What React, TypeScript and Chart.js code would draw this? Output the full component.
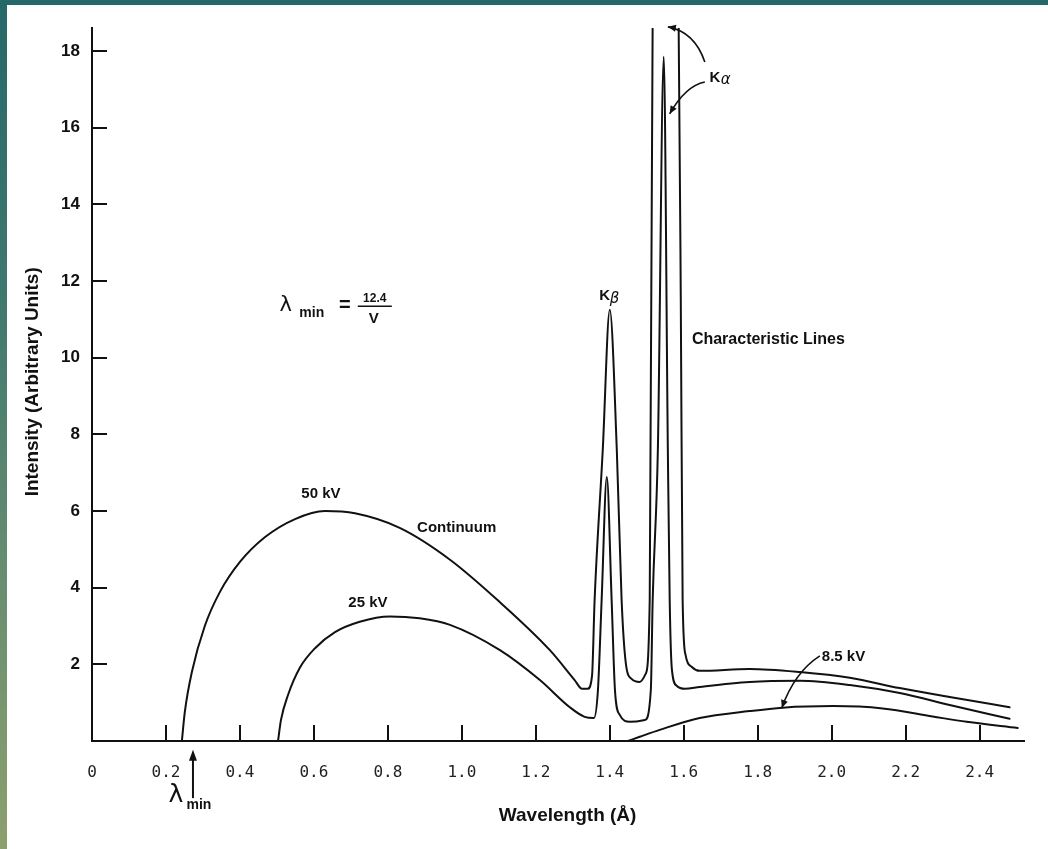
import React, { useEffect, useRef } from 'react';
import { Chart, registerables } from 'chart.js';

Chart.register(...registerables);

// ---- data (wavelength in Å, intensity in arbitrary units) ----
const wl50 = [0.243, 0.251, 0.270, 0.305, 0.346, 0.400, 0.468, 0.549, 0.630, 0.711, 0.832, 0.968, 1.103, 1.238, 1.305, 1.325, 1.340, 1.352, 1.359, 1.381, 1.400, 1.419, 1.432, 1.443, 1.459, 1.481, 1.497, 1.508, 1.516, 1.525, 1.551, 1.578, 1.586, 1.592, 1.597, 1.605, 1.622, 1.643, 1.778, 1.914, 2.049, 2.184, 2.319, 2.481];
const int50 = [0, 0.76, 1.80, 3.00, 3.89, 4.67, 5.32, 5.79, 6.00, 5.94, 5.56, 4.73, 3.62, 2.37, 1.59, 1.36, 1.36, 1.70, 3.68, 7.59, 11.25, 7.59, 3.68, 2.06, 1.62, 1.54, 1.75, 3.68, 18.9, 21, 22, 21, 18.9, 11.5, 3.68, 2.24, 1.93, 1.83, 1.88, 1.80, 1.65, 1.38, 1.15, 0.88];

const wl25 = [0.503, 0.511, 0.530, 0.562, 0.603, 0.657, 0.724, 0.805, 0.886, 0.968, 1.103, 1.211, 1.292, 1.332, 1.357, 1.368, 1.378, 1.392, 1.405, 1.414, 1.427, 1.454, 1.495, 1.511, 1.516, 1.530, 1.546, 1.557, 1.562, 1.568, 1.581, 1.603, 1.643, 1.778, 1.914, 2.049, 2.184, 2.319, 2.481];
const int25 = [0, 0.55, 1.20, 1.91, 2.42, 2.84, 3.11, 3.25, 3.20, 3.03, 2.37, 1.59, 0.88, 0.63, 0.60, 1.33, 3.68, 6.89, 3.68, 1.33, 0.68, 0.50, 0.55, 1.33, 3.68, 7.59, 17.85, 7.59, 3.68, 1.86, 1.44, 1.36, 1.41, 1.54, 1.57, 1.46, 1.25, 0.94, 0.58];

const wl85 = [1.449, 1.481, 1.535, 1.643, 1.778, 1.868, 2.003, 2.138, 2.273, 2.365, 2.503];
const int85 = [0, 0.11, 0.29, 0.60, 0.78, 0.87, 0.91, 0.85, 0.64, 0.50, 0.34];

const seriesNames = ['50 kV', '25 kV', '8.5 kV'];

const xTickValues = [0, 0.2, 0.4, 0.6, 0.8, 1.0, 1.2, 1.4, 1.6, 1.8, 2.0, 2.2, 2.4];
const xTickLabels = ['0', '0.2', '0.4', '0.6', '0.8', '1.0', '1.2', '1.4', '1.6', '1.8', '2.0', '2.2', '2.4'];
const yTickValues = [2, 4, 6, 8, 10, 12, 14, 16, 18];
const yTickLabels = ['2', '4', '6', '8', '10', '12', '14', '16', '18'];

const xTitle = 'Wavelength (Å)';
const yTitle = 'Intensity (Arbitrary Units)';

// text annotations anchored in data units
const curveLabels = [
  { text: '50 kV', x: 0.619, y: 6.45 },
  { text: '25 kV', x: 0.746, y: 3.6 },
  { text: 'Continuum', x: 0.986, y: 5.56 },
  { text: '8.5 kV', x: 2.032, y: 2.19 },
];
const charLinesLabel = { text: 'Characteristic Lines', x: 1.622, y: 10.46 };
const kBetaLabel = { x: 1.386, y: 11.61 };
const kAlphaLabel = { x: 1.684, y: 17.3 };
const formulaAnchor = { x: 0.524, y: 11.37 };
const lambdaMinMark = { x: 0.273, y0: -1.49, y1: -0.23 };
// arrows: start, control, end (data units)
const arrows = [
  [1.968, 2.22, 1.900, 1.80, 1.865, 0.86],
  [1.657, 17.71, 1.630, 18.50, 1.557, 18.63],
  [1.657, 17.19, 1.605, 17.09, 1.562, 16.36],
];

const FONT = "'Liberation Sans', Arial, Helvetica, sans-serif";
const INK = '#111';

function toPoints(xs: number[], ys: number[]) {
  return xs.map((x, i) => ({ x, y: ys[i] }));
}

function arrowHead(ctx: CanvasRenderingContext2D, fx: number, fy: number, tx: number, ty: number, len = 9, half = 3.5) {
  const a = Math.atan2(ty - fy, tx - fx);
  ctx.beginPath();
  ctx.moveTo(tx, ty);
  ctx.lineTo(tx - len * Math.cos(a) + half * Math.sin(a), ty - len * Math.sin(a) - half * Math.cos(a));
  ctx.lineTo(tx - len * Math.cos(a) - half * Math.sin(a), ty - len * Math.sin(a) + half * Math.cos(a));
  ctx.closePath();
  ctx.fill();
}

const decorPlugin = {
  id: 'decor',
  afterDraw(chart: any) {
    const ctx: CanvasRenderingContext2D = chart.ctx;
    const xs = chart.scales.x;
    const ys = chart.scales.y;
    const px = (v: number) => xs.getPixelForValue(v);
    const py = (v: number) => ys.getPixelForValue(v);
    const area = chart.chartArea;
    ctx.save();
    ctx.strokeStyle = INK;
    ctx.fillStyle = INK;
    ctx.lineWidth = 2;
    // inward tick marks
    yTickValues.forEach((v) => {
      const y = Math.round(py(v));
      ctx.beginPath();
      ctx.moveTo(area.left, y);
      ctx.lineTo(area.left + 15, y);
      ctx.stroke();
    });
    xTickValues.filter((v) => v > 0).forEach((v) => {
      const x = Math.round(px(v));
      ctx.beginPath();
      ctx.moveTo(x, area.bottom);
      ctx.lineTo(x, area.bottom - 16);
      ctx.stroke();
    });

    // axis titles
    ctx.textAlign = 'center';
    ctx.textBaseline = 'alphabetic';
    ctx.font = `bold 19px ${FONT}`;
    ctx.fillText(xTitle, px(1.286), area.bottom + 80);
    ctx.save();
    ctx.translate(38, py(9.37));
    ctx.rotate(-Math.PI / 2);
    ctx.font = `bold 19px ${FONT}`;
    ctx.fillText(yTitle, 0, 0);
    ctx.restore();

    // curve labels
    ctx.textBaseline = 'middle';
    ctx.font = `bold 15px ${FONT}`;
    curveLabels.forEach((l) => ctx.fillText(l.text, px(l.x), py(l.y)));
    ctx.textAlign = 'left';
    ctx.font = `bold 16px ${FONT}`;
    ctx.fillText(charLinesLabel.text, px(charLinesLabel.x), py(charLinesLabel.y));

    // K beta, K alpha
    ctx.textAlign = 'center';
    let ax = px(kBetaLabel.x), ay = py(kBetaLabel.y);
    ctx.font = `bold 15px ${FONT}`;
    ctx.fillText('K', ax, ay);
    ctx.font = `italic 15px 'DejaVu Sans', sans-serif`;
    ctx.fillText('β', ax + 10, ay + 3);
    ax = px(kAlphaLabel.x); ay = py(kAlphaLabel.y);
    ctx.font = `bold 15px ${FONT}`;
    ctx.fillText('K', ax, ay);
    ctx.font = `italic 15px 'DejaVu Sans', sans-serif`;
    ctx.fillText('α', ax + 11, ay + 2);

    // formula lambda_min = 12.4 / V
    ax = px(formulaAnchor.x); ay = py(formulaAnchor.y);
    ctx.font = `21px 'DejaVu Sans', sans-serif`;
    ctx.fillText('λ', ax, ay);
    ctx.font = `bold 14px ${FONT}`;
    ctx.fillText('min', ax + 26, ay + 8);
    ctx.font = `bold 20px ${FONT}`;
    ctx.fillText('=', ax + 59, ay);
    ctx.font = `bold 12px ${FONT}`;
    ctx.fillText('12.4', ax + 89, ay - 6);
    ctx.lineWidth = 1.5;
    ctx.beginPath();
    ctx.moveTo(ax + 72, ay + 1);
    ctx.lineTo(ax + 106, ay + 1);
    ctx.stroke();
    ctx.font = `bold 15px ${FONT}`;
    ctx.fillText('V', ax + 88, ay + 14);

    // lambda_min marker below the axis
    const mx = px(lambdaMinMark.x);
    const my0 = py(lambdaMinMark.y0), my1 = py(lambdaMinMark.y1);
    ctx.lineWidth = 2;
    ctx.beginPath();
    ctx.moveTo(mx, my0);
    ctx.lineTo(mx, my1 + 6);
    ctx.stroke();
    arrowHead(ctx, mx, my0, mx, my1, 11, 4);
    ctx.font = `25px 'DejaVu Sans', sans-serif`;
    ctx.fillText('λ', mx - 17, my0 - 3);
    ctx.font = `bold 14px ${FONT}`;
    ctx.fillText('min', mx + 6, my0 + 7);

    // pointer arrows
    ctx.lineWidth = 1.6;
    arrows.forEach((a) => {
      const [x0, y0, cx, cy, x1, y1] = [px(a[0]), py(a[1]), px(a[2]), py(a[3]), px(a[4]), py(a[5])];
      ctx.beginPath();
      ctx.moveTo(x0, y0);
      ctx.quadraticCurveTo(cx, cy, x1, y1);
      ctx.stroke();
      arrowHead(ctx, cx, cy, x1, y1, 8, 3.5);
    });

    ctx.restore();
  },
};

export default function App() {
  const canvasRef = useRef<HTMLCanvasElement | null>(null);

  useEffect(() => {
    const canvas = canvasRef.current;
    if (!canvas) return;
    const lineStyle = {
      borderColor: INK,
      borderWidth: 2,
      pointRadius: 0,
      fill: false,
      cubicInterpolationMode: 'monotone' as const,
      borderJoinStyle: 'round' as const,
      borderCapStyle: 'round' as const,
    };
    const chart = new Chart(canvas, {
      type: 'line',
      data: {
        datasets: [
          { label: seriesNames[0], data: toPoints(wl50, int50), ...lineStyle },
          { label: seriesNames[1], data: toPoints(wl25, int25), ...lineStyle },
          { label: seriesNames[2], data: toPoints(wl85, int85), ...lineStyle },
        ],
      },
      options: {
        responsive: false,
        animation: false,
        layout: { padding: { top: 28, right: 24, left: 0, bottom: 0 } },
        plugins: { legend: { display: false }, tooltip: { enabled: false } },
        scales: {
          x: {
            type: 'linear',
            min: 0,
            max: 2.52,
            grid: { display: false, drawTicks: false },
            border: { display: true, color: INK, width: 2 },
            ticks: {
              autoSkip: false,
              maxRotation: 0,
              padding: 22,
              color: '#222',
              font: { family: "'DejaVu Sans Mono', monospace", size: 16 },
              callback: (value: any) => {
                const i = xTickValues.findIndex((t) => Math.abs(t - Number(value)) < 1e-6);
                return i >= 0 ? xTickLabels[i] : '';
              },
            },
            afterBuildTicks: (s: any) => {
              s.ticks = xTickValues.map((v) => ({ value: v }));
            },
            afterFit: (s: any) => {
              s.height = 108;
            },
          },
          y: {
            type: 'linear',
            min: 0,
            max: 18.6,
            grid: { display: false, drawTicks: false },
            border: { display: true, color: INK, width: 2 },
            ticks: {
              autoSkip: false,
              padding: 12,
              color: INK,
              font: { family: FONT, size: 17, weight: 'bold' },
              callback: (value: any) => {
                const i = yTickValues.findIndex((t) => Math.abs(t - Number(value)) < 1e-6);
                return i >= 0 ? yTickLabels[i] : '';
              },
            },
            afterBuildTicks: (s: any) => {
              s.ticks = yTickValues.map((v) => ({ value: v }));
            },
            afterFit: (s: any) => {
              s.width = 92;
            },
          },
        },
      } as any,
      plugins: [decorPlugin],
    });
    return () => chart.destroy();
  }, []);

  return (
    <div
      style={{
        position: 'fixed',
        left: 0,
        top: 0,
        width: 1048,
        height: 849,
        background: 'linear-gradient(180deg, #256868 0%, #3f786e 35%, #6a8f70 70%, #8ca06d 100%)',
        overflow: 'hidden',
      }}
    >
      <div style={{ position: 'absolute', left: 7, top: 5, right: 0, bottom: 0, background: '#ffffff' }} />
      <canvas
        ref={canvasRef}
        width={1048}
        height={849}
        style={{ position: 'absolute', left: 0, top: 0, display: 'block' }}
      />
    </div>
  );
}
